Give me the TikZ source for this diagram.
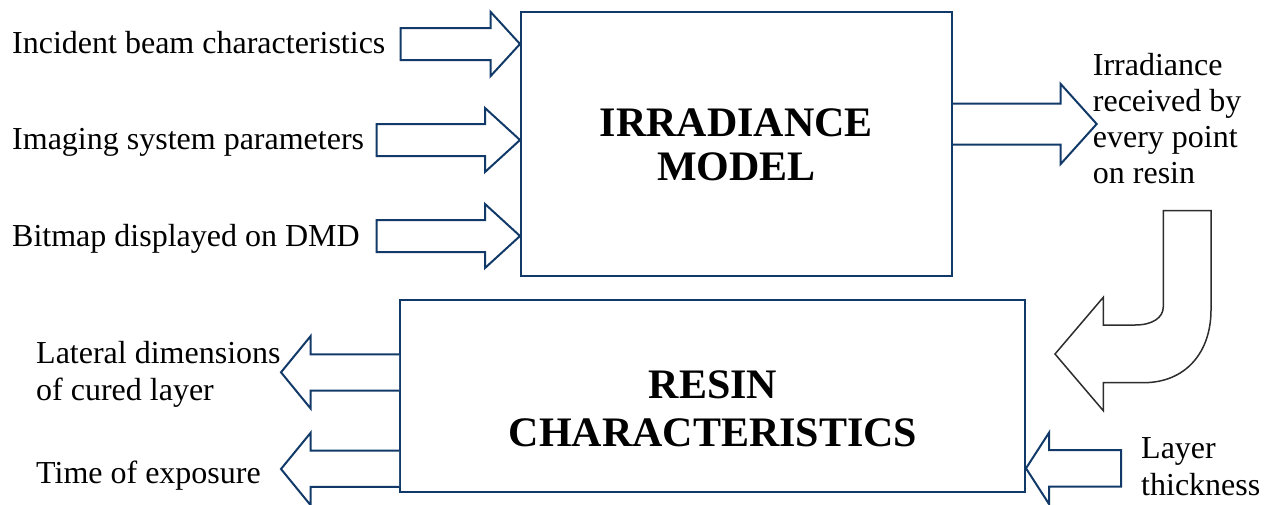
\documentclass[tikz,border=0pt]{standalone}
\usepackage{fontspec}
\setmainfont{Liberation Serif}
\definecolor{navy}{RGB}{18,58,105}
\definecolor{curvegray}{RGB}{45,45,45}
\tikzset{
  box/.style={draw=navy, line width=2pt, fill=white, inner sep=0pt},
  blockarrow/.style={draw=navy, line width=2pt, fill=white, line join=miter},
  curvearrow/.style={draw=curvegray, line width=1.5pt, fill=white, line join=miter},
  lbl/.style={font=\fontsize{32}{36}\selectfont, inner sep=0pt, anchor=base west},
  title/.style={font=\fontsize{42}{46}\selectfont\bfseries, inner sep=0pt, anchor=base}
}
\begin{document}
\begin{tikzpicture}[x=1pt,y=-1pt]
\useasboundingbox (0,0) rectangle (1266,504);

% boxes
\node[box, minimum width=431pt, minimum height=264pt] (irr) at (736.5,144) {};
\node[box, minimum width=625pt, minimum height=192pt] (res) at (712.5,396) {};

\node[title] (t1) at (736.5,136.7) {IRRADIANCE};
\node[title] (t2) at (736.5,180) {MODEL};
\node[title] (t3) at (713,398) {RESIN};
\node[title] (t4) at (713,446.7) {CHARACTERISTICS};

% input arrows
\draw[blockarrow] (400.7,28) -- (490.7,28) -- (490.7,12) -- (irr.west |- 0,44) -- (490.7,76) -- (490.7,60) -- (400.7,60) -- cycle;
\draw[blockarrow] (376.7,124) -- (485,124) -- (485,108) -- (irr.west |- 0,140) -- (485,172) -- (485,156) -- (376.7,156) -- cycle;
\draw[blockarrow] (376.7,220) -- (485,220) -- (485,204) -- (irr.west |- 0,236) -- (485,268) -- (485,252) -- (376.7,252) -- cycle;

% output arrow
\draw[blockarrow] (irr.east |- 0,103.5) -- (1060.7,103.5) -- (1060.7,84) -- (1096.7,124) -- (1060.7,164) -- (1060.7,144.5) -- (irr.east |- 0,144.5);

% outputs of resin box
\draw[blockarrow] (res.west |- 0,354.3) -- (310.7,354.3) -- (310.7,336) -- (281,372.3) -- (310.7,408.6) -- (310.7,390.5) -- (res.west |- 0,390.5);
\draw[blockarrow] (res.west |- 0,450.7) -- (310.7,450.7) -- (310.7,432.7) -- (281,469) -- (310.7,505.3) -- (310.7,486.9) -- (res.west |- 0,486.9);

% layer thickness arrow
\draw[blockarrow] (1121,450) -- (1049,450) -- (1049,432.7) -- (res.east |- 0,468.3) -- (1049,504) -- (1049,486.7) -- (1121,486.7) -- cycle;

% curved arrow
\draw[curvearrow] (1163.3,210.7) -- (1211,210.7) -- (1211,310)
  .. controls (1211,352) and (1186,382.7) .. (1143.3,382.7)
  -- (1103.3,382.7) -- (1103.3,410.7) -- (1055,354) -- (1103.3,297.3) -- (1103.3,325)
  -- (1135,325) .. controls (1152,325) and (1163.3,318) .. (1163.3,306.7) -- cycle;

% labels
\node[lbl] (l1) at (12,53) {Incident beam characteristics};
\node[lbl] (l2) at (12,149) {Imaging system parameters};
\node[lbl] (l3) at (12,246) {Bitmap displayed on DMD};
\node[lbl] (o1) at (1092.7,75) {Irradiance};
\node[lbl] (o2) at (1092.7,111) {received by};
\node[lbl] (o3) at (1092.7,147.5) {every point};
\node[lbl] (o4) at (1092.7,183.5) {on resin};
\node[lbl] (r1) at (36,363) {Lateral dimensions};
\node[lbl] (r2) at (36,400) {of cured layer};
\node[lbl] (r3) at (36,483) {Time of exposure};
\node[lbl] (r4) at (1141,458) {Layer};
\node[lbl] (r5) at (1141,495) {thickness};
\end{tikzpicture}
\end{document}
